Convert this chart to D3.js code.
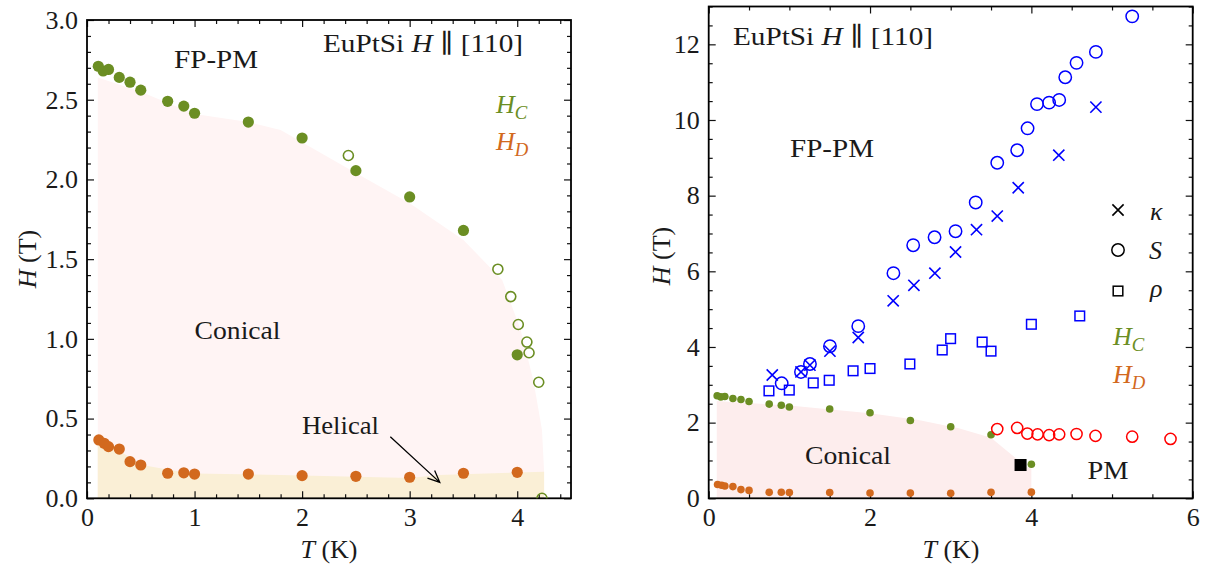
<!DOCTYPE html>
<html><head><meta charset="utf-8">
<script src="https://cdn.jsdelivr.net/npm/d3@7"></script>
<style>
body{margin:0;background:#fff}
svg text{font-family:"Liberation Serif","Times New Roman","DejaVu Serif",serif !important;fill:#1a1a1a}
</style>
</head><body>
<svg id="c" width="1221" height="570"></svg>
<script>
// ---------- data ----------
const hcT = [0.105,0.15,0.2,0.3,0.4,0.5,0.75,0.9,1.0,1.5,2.0,2.5,3.0,3.5,4.0];
const hcH = [2.71,2.68,2.69,2.64,2.61,2.56,2.49,2.46,2.415,2.36,2.26,2.055,1.89,1.68,0.9];
const hcOpenT = [2.43,3.82,3.94,4.01,4.09,4.11,4.2,4.23];
const hcOpenH = [2.15,1.437,1.265,1.09,0.98,0.913,0.728,0.0];
const hdT = [0.11,0.16,0.2,0.3,0.4,0.5,0.75,0.9,1.0,1.5,2.0,2.5,3.0,3.5,4.0];
const hdH = [0.366,0.345,0.324,0.309,0.23,0.209,0.157,0.16,0.152,0.152,0.142,0.138,0.132,0.157,0.163];
// phase-region boundaries (left)
const conT = [0.1,0.5,1.0,1.5,1.8,2.5,3.0,3.5,3.86,4.03,4.15,4.23,4.25,4.25];
const conH = [2.64,2.55,2.41,2.36,2.31,2.04,1.85,1.62,1.37,1.06,0.74,0.43,0.17,0];
const helT = [0.1,0.3,0.5,0.8,1.0,1.8,3.0,3.27,4.25];
const helH = [0.36,0.30,0.21,0.175,0.155,0.146,0.127,0.146,0.167];
// right panel
const kapT = [0.788,1.144,1.255,1.503,1.854,2.287,2.544,2.804,3.06,3.32,3.577,3.837,4.34,4.80];
const kapH = [3.26,3.34,3.52,3.89,4.25,5.22,5.63,5.95,6.51,7.10,7.46,8.21,9.07,10.34];
const sT = [0.905,1.144,1.255,1.503,1.854,2.29,2.535,2.80,3.06,3.31,3.577,3.824,3.953,4.07,4.22,4.345,4.42,4.56,4.80,5.25];
const sH = [3.04,3.34,3.55,4.02,4.55,5.95,6.69,6.90,7.06,7.82,8.87,9.20,9.78,10.42,10.46,10.53,11.13,11.51,11.80,12.74];
const rhoT = [0.747,0.999,1.296,1.494,1.79,2.0,2.494,2.895,2.999,3.39,3.50,4.0,4.60];
const rhoH = [2.84,2.86,3.05,3.12,3.37,3.43,3.55,3.92,4.22,4.13,3.89,4.60,4.82];
const pmT = [3.577,3.824,3.95,4.077,4.22,4.345,4.56,4.795,5.25,5.725];
const pmH = [1.83,1.86,1.71,1.69,1.67,1.69,1.70,1.65,1.63,1.57];
const rhoZeroT = [3.866];
const rhoZeroH = [0.88];
const conRT = [0.1,1.0,2.0,2.6,3.1,3.5,3.94,4.0,4.0];
const conRH = [2.57,2.45,2.25,2.07,1.85,1.60,0.83,0.79,0];

const green = "#6b8e23", orange = "#d2691e", blue = "#0000ff", red = "#ff0000";
const FONT = '"Liberation Serif","Times New Roman","DejaVu Serif",serif';
const svg = d3.select("#c");
const zip = (a,b) => a.map((v,i)=>[v,b[i]]);

function frame(g, x, y, xMaj, xMin, yMaj, yMin, xFmt, yFmt, id) {
  const [x0,x1] = x.range(), [y0,y1] = y.range();
  const W = x1-x0, H = y0-y1;
  const ax = (gen, tr) => g.append("g").attr("transform", tr).call(gen).call(s=>s.select(".domain").remove()).attr("font-family",FONT);
  ax(d3.axisBottom(x).tickValues(xMaj).tickSize(-7).tickPadding(9).tickFormat(xFmt), `translate(0,${y0})`);
  ax(d3.axisBottom(x).tickValues(xMin).tickSize(-4).tickFormat(""), `translate(0,${y0})`);
  ax(d3.axisTop(x).tickValues(xMaj).tickSize(-7).tickFormat(""), `translate(0,${y1})`);
  ax(d3.axisTop(x).tickValues(xMin).tickSize(-4).tickFormat(""), `translate(0,${y1})`);
  ax(d3.axisLeft(y).tickValues(yMaj).tickSize(-7).tickPadding(9).tickFormat(yFmt), `translate(${x0},0)`);
  ax(d3.axisLeft(y).tickValues(yMin).tickSize(-4).tickFormat(""), `translate(${x0},0)`);
  ax(d3.axisRight(y).tickValues(yMaj).tickSize(-7).tickFormat(""), `translate(${x1},0)`);
  ax(d3.axisRight(y).tickValues(yMin).tickSize(-4).tickFormat(""), `translate(${x1},0)`);
  g.selectAll(".tick line").attr("stroke","#111").attr("stroke-width",1.2);
  g.selectAll(".tick text").style("font-family",FONT).attr("font-size",26).attr("fill","#1a1a1a");
  g.append("rect").attr("x",x0).attr("y",y1).attr("width",W).attr("height",H)
    .attr("fill","none").attr("stroke","#000").attr("stroke-width",1.8);
  g.append("clipPath").attr("id",id).append("rect").attr("x",x0).attr("y",y1).attr("width",W).attr("height",H);
}

function mathLabel(g, x, y, main, sub, color, size) {
  const t = g.append("text").attr("x",x).attr("y",y).attr("font-size",size).attr("fill",color).style("fill",color);
  t.append("tspan").attr("font-style","italic").text(main);
  if (sub) t.append("tspan").attr("font-style","italic").attr("font-size",size*0.72).attr("dy",size*0.22).text(sub);
  return t;
}

// ---------- LEFT PANEL ----------
{
  const x = d3.scaleLinear().domain([0,4.5]).range([87,571]);
  const y = d3.scaleLinear().domain([0,3]).range([498.3,20]);
  const g = svg.append("g");
  const area = d3.area().x(d=>x(d[0])).y0(y(0)).y1(d=>y(d[1]));
  g.append("path").datum(zip(conT,conH)).attr("d",area).attr("fill","#fff4f4");
  g.append("path").datum(zip(helT,helH)).attr("d",area).attr("fill","#faefd6");
  frame(g, x, y, [0,1,2,3,4], d3.range(0,4.51,0.2).filter(v=>Math.abs(v-Math.round(v))>1e-6),
        d3.range(0,3.01,0.5), d3.range(0,3.001,0.1).filter(v=>Math.abs(v*2-Math.round(v*2))>1e-6),
        d3.format("d"), d3.format(".1f"), "clipL");
  const pts = g.append("g").attr("clip-path","url(#clipL)");
  pts.selectAll(".hd").data(zip(hdT,hdH)).join("circle").attr("cx",d=>x(d[0])).attr("cy",d=>y(d[1])).attr("r",5.6).attr("fill",orange);
  pts.selectAll(".hc").data(zip(hcT,hcH)).join("circle").attr("cx",d=>x(d[0])).attr("cy",d=>y(d[1])).attr("r",5.6).attr("fill",green);
  pts.selectAll(".hco").data(zip(hcOpenT,hcOpenH)).join("circle").attr("cx",d=>x(d[0])).attr("cy",d=>y(d[1])).attr("r",5).attr("fill","none").attr("stroke",green).attr("stroke-width",1.6);

  g.append("text").attr("x",x(1.2)).attr("y",y(2.7)).attr("text-anchor","middle").attr("font-size",26).attr("textLength",84).attr("lengthAdjust","spacingAndGlyphs").text("FP-PM");
  const t = g.append("text").attr("x",323).attr("y",52).attr("font-size",26).attr("textLength",200).attr("lengthAdjust","spacingAndGlyphs");
  t.append("tspan").text("EuPtSi ");
  t.append("tspan").attr("font-style","italic").text("H");
  t.append("tspan").text(" \u2225 [110]");
  g.append("text").attr("x",x(1.4)).attr("y",y(1.0)).attr("text-anchor","middle").attr("font-size",26).attr("textLength",86).attr("lengthAdjust","spacingAndGlyphs").text("Conical");
  g.append("text").attr("x",302).attr("y",434).attr("font-size",26).attr("textLength",77).attr("lengthAdjust","spacingAndGlyphs").text("Helical");
  mathLabel(g, 496, 113, "H", "C", green, 26);
  mathLabel(g, 496, 150, "H", "D", orange, 26);
  // arrow
  const a0 = [x(2.82), y(0.386)], a1 = [x(3.28), y(0.10)];
  const ang = Math.atan2(a1[1]-a0[1], a1[0]-a0[0]), L = 13, sp = 0.42;
  g.append("path").attr("d",`M${a0}L${a1}M${a1[0]-L*Math.cos(ang-sp)},${a1[1]-L*Math.sin(ang-sp)}L${a1}L${a1[0]-L*Math.cos(ang+sp)},${a1[1]-L*Math.sin(ang+sp)}`)
    .attr("fill","none").attr("stroke","#000").attr("stroke-width",1.3);
  // axis labels
  const yl = g.append("text").attr("transform","translate(36,259) rotate(-90)").attr("text-anchor","middle").attr("font-size",26);
  yl.append("tspan").attr("font-style","italic").text("H");
  yl.append("tspan").text(" (T)");
  const xl = g.append("text").attr("x",329).attr("y",558).attr("text-anchor","middle").attr("font-size",26);
  xl.append("tspan").attr("font-style","italic").text("T");
  xl.append("tspan").text(" (K)");
}

// ---------- RIGHT PANEL ----------
{
  const x = d3.scaleLinear().domain([0,6]).range([708.7,1192.7]);
  const y = d3.scaleLinear().domain([0,13]).range([498.3,6.5]);
  const g = svg.append("g");
  const area = d3.area().x(d=>x(d[0])).y0(y(0)).y1(d=>y(d[1]));
  g.append("path").datum(zip(conRT,conRH)).attr("d",area).attr("fill","#fdeded");
  frame(g, x, y, [0,2,4,6], d3.range(0,6.01,0.5).filter(v=>v%2!==0),
        d3.range(0,12.1,2), d3.range(0,13.01,0.5).filter(v=>v%2!==0),
        d3.format("d"), d3.format("d"), "clipR");
  const pts = g.append("g").attr("clip-path","url(#clipR)");
  pts.selectAll(".hd").data(zip(hdT,hdH)).join("circle").attr("cx",d=>x(d[0])).attr("cy",d=>y(d[1])).attr("r",3.8).attr("fill",orange);
  pts.selectAll(".hc").data(zip(hcT,hcH)).join("circle").attr("cx",d=>x(d[0])).attr("cy",d=>y(d[1])).attr("r",3.8).attr("fill",green);
  pts.selectAll(".rho").data(zip(rhoT,rhoH)).join("rect").attr("x",d=>x(d[0])-4.8).attr("y",d=>y(d[1])-4.8).attr("width",9.6).attr("height",9.6)
    .attr("fill","none").attr("stroke",blue).attr("stroke-width",1.5);
  pts.selectAll(".s").data(zip(sT,sH)).join("circle").attr("cx",d=>x(d[0])).attr("cy",d=>y(d[1])).attr("r",6.2).attr("fill","none").attr("stroke",blue).attr("stroke-width",1.5);
  const xs = 5.6;
  pts.selectAll(".k").data(zip(kapT,kapH)).join("path")
    .attr("d",d=>{const cx=x(d[0]),cy=y(d[1]);return `M${cx-xs},${cy-xs}L${cx+xs},${cy+xs}M${cx-xs},${cy+xs}L${cx+xs},${cy-xs}`;})
    .attr("stroke",blue).attr("stroke-width",1.6).attr("fill","none");
  pts.selectAll(".pm").data(zip(pmT,pmH)).join("circle").attr("cx",d=>x(d[0])).attr("cy",d=>y(d[1])).attr("r",5.6).attr("fill","none").attr("stroke",red).attr("stroke-width",1.5);
  pts.selectAll(".r0").data(zip(rhoZeroT,rhoZeroH)).join("rect").attr("x",d=>x(d[0])-6).attr("y",d=>y(d[1])-6).attr("width",12).attr("height",12).attr("fill","#000");

  const t = g.append("text").attr("x",733).attr("y",45).attr("font-size",26).attr("textLength",200).attr("lengthAdjust","spacingAndGlyphs");
  t.append("tspan").text("EuPtSi ");
  t.append("tspan").attr("font-style","italic").text("H");
  t.append("tspan").text(" \u2225 [110]");
  g.append("text").attr("x",832).attr("y",157).attr("text-anchor","middle").attr("font-size",26).attr("textLength",84).attr("lengthAdjust","spacingAndGlyphs").text("FP-PM");
  g.append("text").attr("x",848).attr("y",464).attr("text-anchor","middle").attr("font-size",26).attr("textLength",86).attr("lengthAdjust","spacingAndGlyphs").text("Conical");
  g.append("text").attr("x",1108).attr("y",479).attr("text-anchor","middle").attr("font-size",26).attr("textLength",41).attr("lengthAdjust","spacingAndGlyphs").text("PM");
  // legend
  const lg = g.append("g");
  const lx = 1118;
  lg.append("path").attr("d",`M${lx-xs},${210-xs}L${lx+xs},${210+xs}M${lx-xs},${210+xs}L${lx+xs},${210-xs}`).attr("stroke","#000").attr("stroke-width",1.6);
  lg.append("circle").attr("cx",lx).attr("cy",250).attr("r",6.2).attr("fill","none").attr("stroke","#000").attr("stroke-width",1.5);
  lg.append("rect").attr("x",lx-4.8).attr("y",291-4.8).attr("width",9.6).attr("height",9.6).attr("fill","none").attr("stroke","#000").attr("stroke-width",1.5);
  mathLabel(lg, 1150, 220, "\u03ba", null, "#1a1a1a", 26);
  mathLabel(lg, 1149, 259, "S", null, "#1a1a1a", 26);
  mathLabel(lg, 1150, 297, "\u03c1", null, "#1a1a1a", 26);
  mathLabel(lg, 1113, 345, "H", "C", green, 26);
  mathLabel(lg, 1113, 383, "H", "D", orange, 26);
  const yl = g.append("text").attr("transform","translate(670,256) rotate(-90)").attr("text-anchor","middle").attr("font-size",26);
  yl.append("tspan").attr("font-style","italic").text("H");
  yl.append("tspan").text(" (T)");
  const xl = g.append("text").attr("x",951).attr("y",558).attr("text-anchor","middle").attr("font-size",26);
  xl.append("tspan").attr("font-style","italic").text("T");
  xl.append("tspan").text(" (K)");
}
</script>
</body></html>
